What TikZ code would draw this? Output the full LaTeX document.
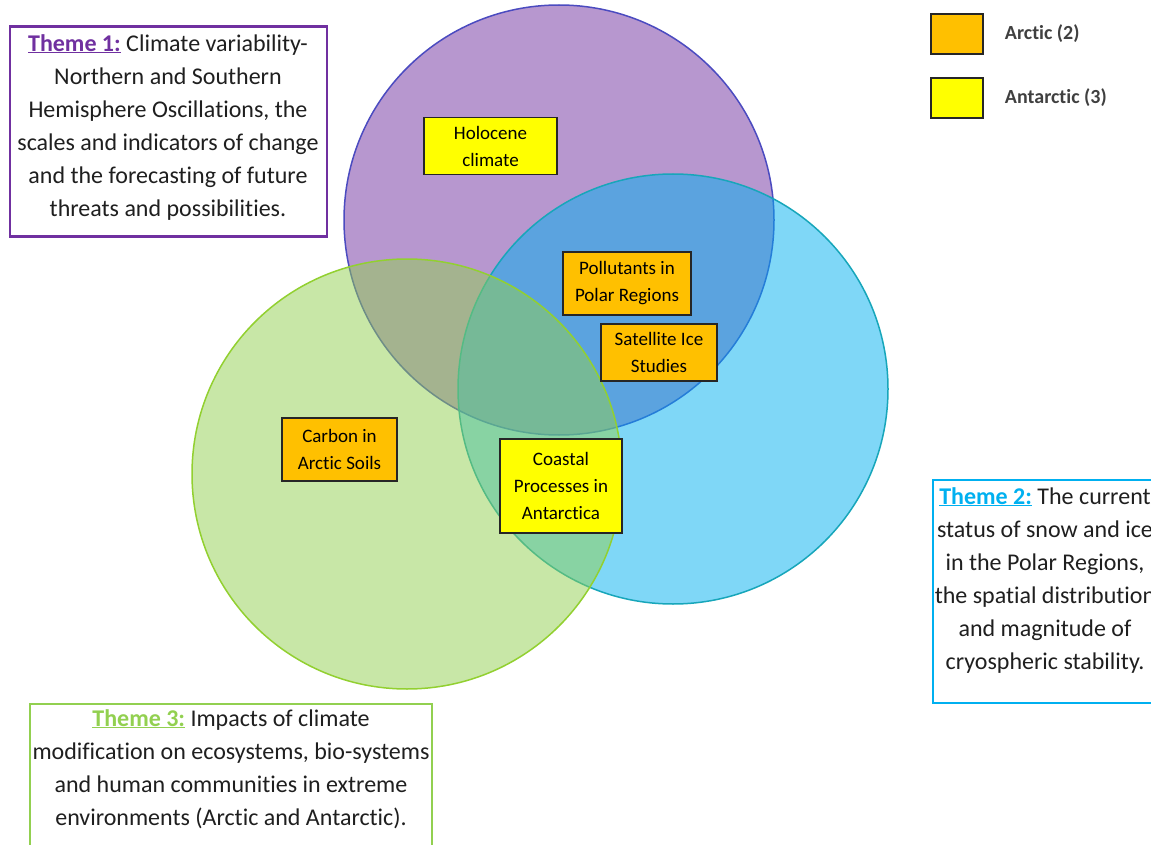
\documentclass[tikz,border=0pt]{standalone}
\usepackage{fontspec}
\setmainfont{Carlito}[Ligatures=NoCommon]
\usetikzlibrary{positioning}
\definecolor{themeone}{HTML}{7030A0}
\definecolor{themetwo}{HTML}{00B0F0}
\definecolor{themethree}{HTML}{92D050}
\definecolor{ringone}{HTML}{4B4BC0}
\definecolor{ringtwo}{HTML}{17A6BA}
\definecolor{ringthree}{HTML}{92D030}
\definecolor{arctic}{HTML}{FFC000}
\definecolor{antarctic}{HTML}{FFFF00}
\begin{document}
\begin{tikzpicture}[x=1pt,y=-1pt,
  themebox/.style={draw=#1, line width=2.5pt, fill=white, inner sep=0pt},
  themetext/.style={anchor=north, align=center, inner sep=0pt, text=black!88, font=\fontsize{24}{33}\selectfont},
  tagbox/.style={draw=black!85, line width=1.5pt, fill=#1, align=center, inner sep=0pt, font=\fontsize{19}{27}\selectfont},
  keybox/.style={draw=black!85, line width=1.5pt, fill=#1, minimum width=52pt, minimum height=40pt, inner sep=0pt},
  keytext/.style={right=21pt of #1, inner sep=0pt, text=black!75, font=\fontsize{20}{24}\selectfont\bfseries}]
\useasboundingbox (0,0) rectangle (1151,845);
\clip (0,0) rectangle (1151,845);
\fill[white] (0,0) rectangle (1151,845);
% the three theme circles
\draw[draw=ringone, fill=themeone, fill opacity=0.5, line width=1.5pt] (559,220) circle[radius=215pt];
\draw[draw=ringtwo, fill=themetwo, fill opacity=0.5, line width=1.5pt] (673,389) circle[radius=215pt];
\draw[draw=ringthree, fill=themethree, fill opacity=0.5, line width=1.5pt] (407,474) circle[radius=215pt];
% project boxes
\node[tagbox=antarctic, minimum width=133pt, minimum height=57pt] (holocene) at (490.5,146) {Holocene\\climate};
\node[tagbox=arctic, minimum width=128pt, minimum height=63pt] (pollutants) at (627,283.5) {Pollutants in\\Polar Regions};
\node[tagbox=arctic, minimum width=116pt, minimum height=57pt] (satellite) at (659,352.5) {Satellite Ice\\Studies};
\node[tagbox=arctic, minimum width=115pt, minimum height=63pt] (carbon) at (339.5,449.5) {Carbon in\\Arctic Soils};
\node[tagbox=antarctic, minimum width=122pt, minimum height=94pt] (coastal) at (561,486) {Coastal\\Processes in\\Antarctica};
% key
\node[keybox=arctic] (arctickey) at (957,34) {};
\node[keytext=arctickey] (arcticlabel) {Arctic (2)};
\node[keybox=antarctic] (antarctickey) at (957,98) {};
\node[keytext=antarctickey] (antarcticlabel) {Antarctic (3)};
% theme descriptions
\node[themebox=themeone, minimum width=317pt, minimum height=210pt] (t1box) at (168.5,131.5) {};
\node[themetext] (t1text) at (168,34) {{\color{themeone}\underline{\textbf{Theme 1:}}} Climate variability-\\Northern and Southern\\Hemisphere Oscillations, the\\scales and indicators of change\\and the forecasting of future\\threats and possibilities.};
\node[themebox=themetwo, minimum width=227pt, minimum height=223pt] (t2box) at (1046.5,591.5) {};
\node[themetext] (t2text) at (1045,487) {{\color{themetwo}\underline{\textbf{Theme 2:}}} The current\\status of snow and ice\\in the Polar Regions,\\the spatial distribution\\and magnitude of\\cryospheric stability.};
\node[themebox=themethree, minimum width=402pt, minimum height=166pt] (t3box) at (231,787) {};
\node[themetext, font=\fontsize{24}{33}\selectfont] (t3text) at (231,709) {{\color{themethree}\underline{\textbf{Theme 3:}}} Impacts of climate\\modification on ecosystems, bio-systems\\and human communities in extreme\\environments (Arctic and Antarctic).};
\end{tikzpicture}
\end{document}
